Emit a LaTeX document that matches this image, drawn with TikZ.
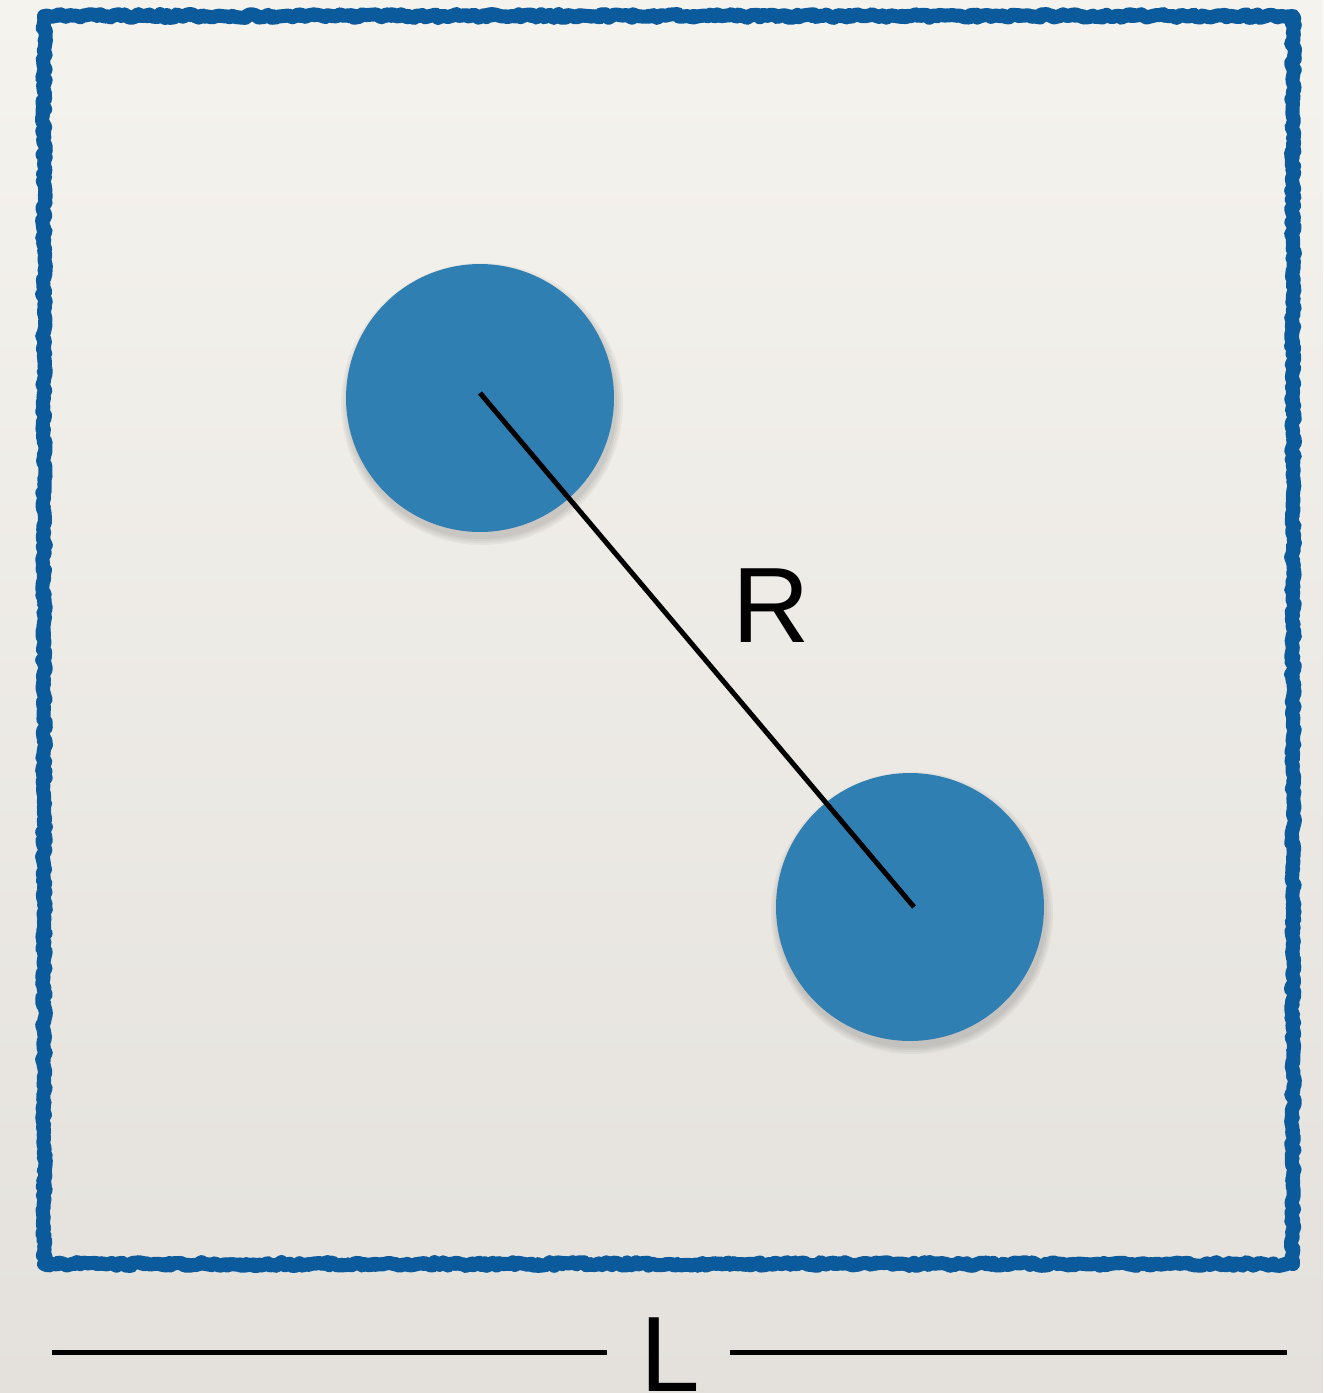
\documentclass[tikz,border=0pt]{standalone}
\usepackage{fontspec}
\setmainfont{Liberation Sans}
\usetikzlibrary{decorations.pathmorphing}
\definecolor{bgtop}{HTML}{F5F3EE}
\definecolor{bgbot}{HTML}{E4E1DC}
\definecolor{frameblue}{HTML}{0B5A9B}
\definecolor{ballblue}{HTML}{2F7FB3}
\tikzset{
  rough/.style={draw=frameblue, line width=0.28cm, line join=round,
    decorate, decoration={random steps, segment length=2pt, amplitude=1.1pt}},
  roughthin/.style={draw=frameblue, line width=0.18cm, line join=round,
    decorate, decoration={random steps, segment length=1.2pt, amplitude=1.6pt}},
  ball/.style={circle, fill=ballblue, minimum size=5.36cm, inner sep=0pt},
  shade1/.style={fill=black, opacity=0.04},
  rodline/.style={draw=black, line width=0.1cm},
  dimline/.style={draw=black, line width=0.1cm},
  bigtext/.style={font=\fontsize{61}{61}\selectfont, inner sep=0pt}
}
\begin{document}
\begin{tikzpicture}[x=0.02cm, y=-0.02cm]
\useasboundingbox (0,0) rectangle (1323,1393);
\shade[top color=bgtop, bottom color=bgbot] (0,0) rectangle (1323,1393);
\pgfmathsetseed{7}
% frame
\path[rough] (44,16) -- (1293,16) -- (1293,1264) -- (44,1264) -- cycle;
\path[roughthin] (44,16) -- (1293,16) -- (1293,1264) -- (44,1264) -- cycle;
% shadows
\foreach \r in {135,137,139,141}{
  \fill[shade1] (482,404) circle (\r);
  \fill[shade1] (912,913) circle (\r);
}
% balls
\node[ball] (c1) at (480,398) {};
\node[ball] (c2) at (910,907) {};
\coordinate (p1) at (480,393);
\coordinate (p2) at (914,907);
\draw[rodline] (p1) -- (p2);
\node[bigtext] (R) at (771,606) {R};
% dimension
\node[bigtext, anchor=base] (L) at (670,1391) {L};
\coordinate (d1) at (52,1352);
\coordinate (d2) at (607,1352);
\coordinate (d3) at (730,1352);
\coordinate (d4) at (1287,1352);
\draw[dimline] (d1) -- (d2);
\draw[dimline] (d3) -- (d4);
\end{tikzpicture}
\end{document}
